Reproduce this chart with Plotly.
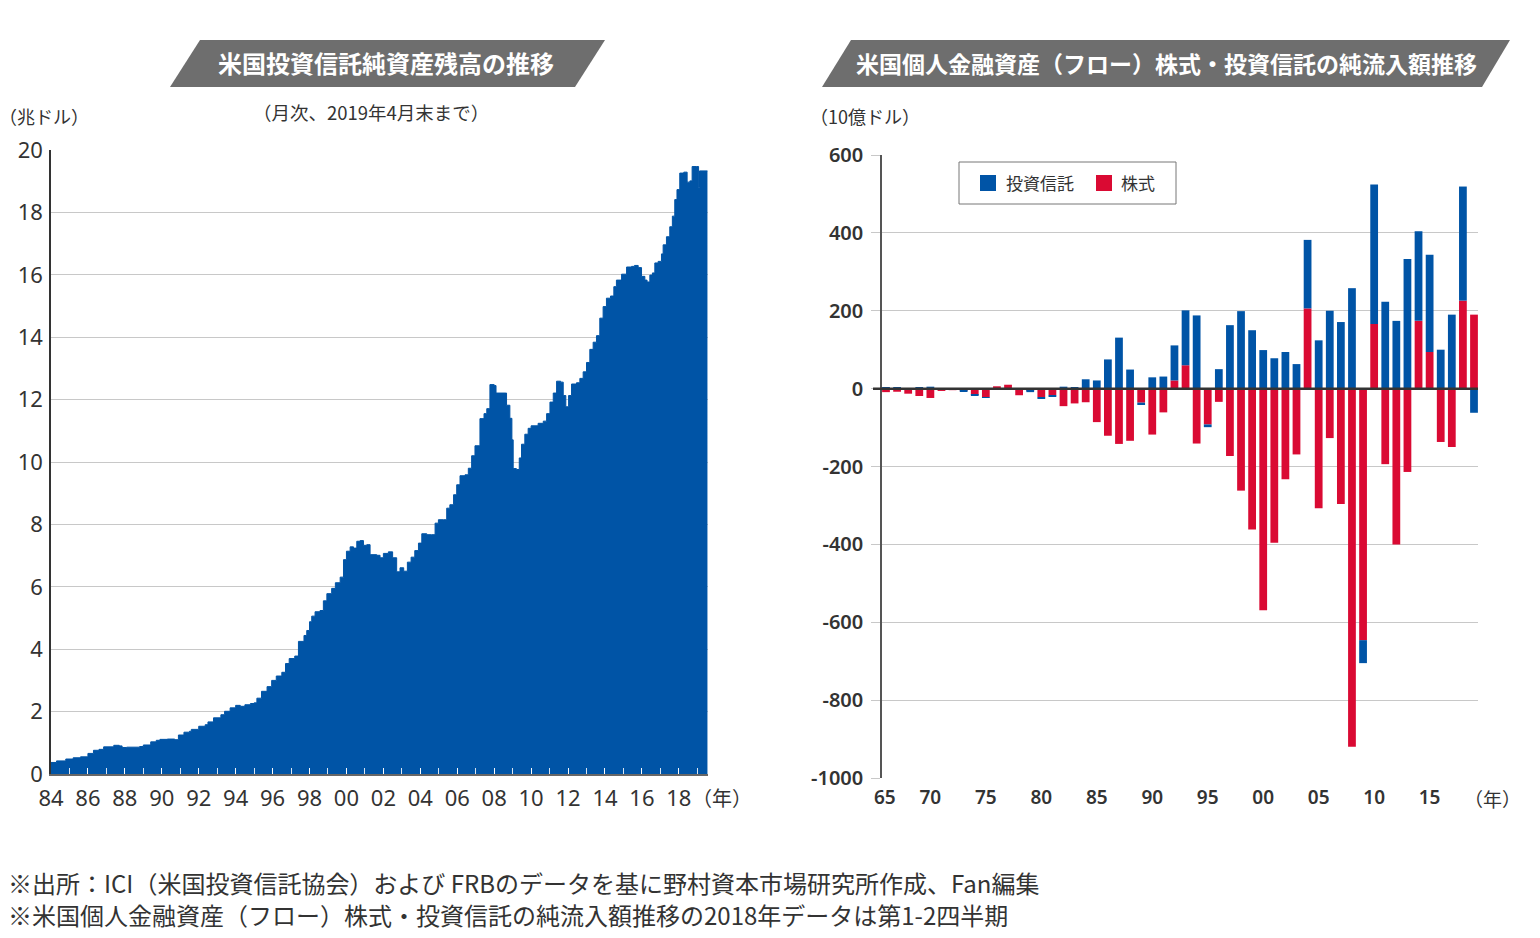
import plotly.graph_objects as go

W, H = 1540, 938
BLUE = "#0054a6"
RED = "#da0a33"
TXT = "#333333"
GRID = "#c8c8c8"
JP = "Noto Sans CJK JP"
NUM = "Noto Sans, sans-serif"

# ---- Left chart: US mutual fund net assets (trillion USD) ----
aum_year = [1984.0, 1984.3, 1984.8, 1985.2, 1985.6, 1986.0, 1986.3, 1986.6, 1986.85, 1987.4,
            1987.7, 1987.85, 1988.1, 1988.8, 1989.0, 1989.4, 1989.7, 1989.9, 1990.3, 1990.7,
            1990.9, 1991.2, 1991.5, 1991.6, 1992.0, 1992.35, 1992.5, 1992.8, 1993.2, 1993.4,
            1993.7, 1994.0, 1994.25, 1994.5, 1994.8, 1995.0, 1995.15, 1995.4, 1995.7, 1995.95,
            1996.2, 1996.5, 1996.7, 1996.9, 1997.2, 1997.4, 1997.7, 1997.85, 1998.0, 1998.12,
            1998.3, 1998.57, 1998.75, 1998.94, 1999.2, 1999.4, 1999.66, 1999.84, 2000.0, 2000.2,
            2000.38, 2000.56, 2000.74, 2000.92, 2001.1, 2001.28, 2001.64, 2001.82, 2002.0, 2002.27,
            2002.5, 2002.72, 2002.9, 2003.1, 2003.3, 2003.5, 2003.7, 2003.9, 2004.08, 2004.35,
            2004.6, 2004.8, 2004.98, 2005.25, 2005.43, 2005.6, 2005.8, 2005.97, 2006.15, 2006.42,
            2006.6, 2006.78, 2006.96, 2007.23, 2007.45, 2007.6, 2007.77, 2008.0, 2008.1, 2008.6,
            2008.67, 2008.85, 2008.96, 2009.03, 2009.2, 2009.36, 2009.48, 2009.66, 2009.84, 2010.0,
            2010.38, 2010.66, 2010.84, 2011.02, 2011.2, 2011.38, 2011.6, 2011.74, 2011.88, 2012.03,
            2012.19, 2012.46, 2012.64, 2012.82, 2013.0, 2013.18, 2013.36, 2013.54, 2013.72, 2013.9,
            2014.08, 2014.3, 2014.48, 2014.62, 2014.9, 2015.17, 2015.44, 2015.6, 2015.8, 2015.98,
            2016.16, 2016.28, 2016.43, 2016.57, 2016.7, 2016.88, 2017.06, 2017.15, 2017.33, 2017.51,
            2017.65, 2017.78, 2017.9, 2018.05, 2018.27, 2018.45, 2018.6, 2018.72, 2018.95, 2019.07,
            2019.12, 2019.55]
aum_value = [0.37, 0.42, 0.48, 0.52, 0.55, 0.66, 0.76, 0.79, 0.87, 0.92,
             0.90, 0.85, 0.86, 0.88, 0.93, 1.03, 1.08, 1.11, 1.12, 1.10,
             1.25, 1.34, 1.37, 1.43, 1.53, 1.58, 1.67, 1.80, 1.90, 2.01,
             2.12, 2.20, 2.17, 2.22, 2.26, 2.28, 2.43, 2.65, 2.80, 3.00,
             3.14, 3.26, 3.54, 3.70, 3.78, 4.25, 4.44, 4.60, 4.88, 5.06,
             5.20, 5.24, 5.55, 5.78, 5.95, 6.13, 6.31, 6.87, 7.14, 7.28,
             7.24, 7.46, 7.48, 7.33, 7.35, 7.03, 7.01, 6.93, 7.07, 7.12,
             6.93, 6.48, 6.61, 6.50, 6.79, 6.95, 7.16, 7.40, 7.70, 7.67,
             7.67, 8.04, 8.15, 8.15, 8.52, 8.63, 8.95, 9.27, 9.56, 9.59,
             9.80, 10.20, 10.52, 11.39, 11.55, 11.71, 12.48, 12.45, 12.21, 12.21,
             11.82, 11.40, 10.71, 9.79, 9.76, 10.13, 10.57, 10.89, 11.08, 11.16,
             11.24, 11.31, 11.55, 11.92, 12.21, 12.59, 12.56, 12.13, 11.77, 12.13,
             12.50, 12.54, 12.68, 12.89, 13.19, 13.61, 13.84, 14.05, 14.61, 14.98,
             15.25, 15.32, 15.62, 15.83, 16.02, 16.25, 16.27, 16.30, 16.23, 15.95,
             15.83, 15.77, 15.99, 16.06, 16.38, 16.43, 16.67, 16.96, 17.22, 17.54,
             17.88, 18.41, 18.73, 19.26, 19.29, 18.97, 19.01, 19.47, 19.47, 18.80,
             19.33, 19.33]
left_tickvals = list(range(1984, 2019, 2))
left_ticktext = ["84", "86", "88", "90", "92", "94", "96", "98", "00", "02",
                 "04", "06", "08", "10", "12", "14", "16", "18"]

# ---- Right chart: US household net flows (10億ドル) ----
flow_years = list(range(1966, 2020))
fund_flow = [3, 3, 0, 3, 5, 0, 0, -2, -3, -1,
             0, 0, 0, -3, -3, -2, 5, 4, 24, 21,
             75, 131, 49, -6, 29, 31, 90, 141, 188, -7,
             50, 163, 199, 150, 99, 78, 94, 63, 176, 124,
             200, 171, 258, -59, 358, 223, 174, 333, 230, 250,
             100, 190, 293, -62]
stock_flow = [-9, -8, -13, -19, -24, -6, -4, -6, -16, -22,
              6, 10, -17, -6, -22, -17, -45, -38, -35, -86,
              -121, -142, -134, -36, -118, -61, 21, 60, -141, -92,
              -34, -173, -262, -362, -569, -396, -233, -169, 206, -307,
              -127, -296, -920, -646, 166, -194, -400, -214, 174, 94,
              -137, -150, 226, 190]
right_tickvals = [1965.9, 1970, 1975, 1980, 1985, 1990, 1995, 2000, 2005, 2010, 2015]
right_ticktext = ["65", "70", "75", "80", "85", "90", "95", "00", "05", "10", "15"]
right_yvals = [600, 400, 200, 0, -200, -400, -600, -800, -1000]
right_ytext = ["600", "400", "200", "0", "-200", "-400", "-600", "-800", "-1000"]


def px(x):
    return x / W


def py(y):
    return 1 - y / H


fig = go.Figure()
fig.add_trace(go.Scatter(
    x=aum_year, y=aum_value, xaxis="x", yaxis="y", mode="lines",
    line=dict(color=BLUE, width=1, shape="hv"), fill="tozeroy", fillcolor=BLUE,
    showlegend=False, hoverinfo="skip"))
fig.add_trace(go.Bar(
    x=flow_years, y=stock_flow, name="株式", marker=dict(color=RED, line=dict(width=0)),
    width=0.7, xaxis="x2", yaxis="y2", showlegend=False))
fig.add_trace(go.Bar(
    x=flow_years, y=fund_flow, name="投資信託", marker=dict(color=BLUE, line=dict(width=0)),
    width=0.7, xaxis="x2", yaxis="y2", showlegend=False))

shapes = []


def banner(x0b, x0t, x1t, x1b, yt, yb):
    return dict(type="path", xref="paper", yref="paper",
                path=f"M {px(x0b)},{py(yb)} L {px(x0t)},{py(yt)} L {px(x1t)},{py(yt)} L {px(x1b)},{py(yb)} Z",
                fillcolor="#6e6e6e", line=dict(width=0), layer="below")


shapes.append(banner(170, 200, 605, 575, 40, 87))
shapes.append(banner(822, 851, 1510, 1482, 40, 87))
shapes.append(dict(type="line", xref="paper", yref="y2", x0=px(873), x1=px(1478), y0=0, y1=0,
                   line=dict(color="#333333", width=2.5), layer="above"))
shapes.append(dict(type="rect", xref="paper", yref="paper", x0=px(959), x1=px(1176),
                   y0=py(204), y1=py(162), line=dict(color="#777777", width=1), fillcolor="white"))
shapes.append(dict(type="rect", xref="paper", yref="paper", x0=px(980), x1=px(996),
                   y0=py(191), y1=py(175), line=dict(width=0), fillcolor=BLUE))
shapes.append(dict(type="rect", xref="paper", yref="paper", x0=px(1096), x1=px(1112),
                   y0=py(191), y1=py(175), line=dict(width=0), fillcolor=RED))

ann = []


def text(x, y, s, size, color=TXT, xanchor="center", weight=None, family=JP):
    f = dict(family=family, size=size, color=color)
    if weight:
        f["weight"] = weight
    ann.append(dict(x=px(x), y=py(y), xref="paper", yref="paper", text=s, showarrow=False,
                    xanchor=xanchor, yanchor="middle", font=f))


text(386, 63, "米国投資信託純資産残高の推移", 24, "white", weight="bold")
text(1166, 63, "米国個人金融資産（フロー）株式・投資信託の純流入額推移", 23, "white", weight="bold")
text(371, 112, "（月次、2019年4月末まで）", 18.5)
text(-3, 116, "（兆ドル）", 18, xanchor="left")
text(808, 116, "（10億ドル）", 18, xanchor="left")
text(690, 797, "（年）", 20, xanchor="left")
text(1462, 798, "（年）", 19, xanchor="left")
text(1004, 183, "投資信託", 17, xanchor="left")
text(1119, 183, "株式", 17, xanchor="left")
text(6, 882, "※出所：ICI（米国投資信託協会）および FRBのデータを基に野村資本市場研究所作成、Fan編集", 24, xanchor="left")
text(6, 914, "※米国個人金融資産（フロー）株式・投資信託の純流入額推移の2018年データは第1-2四半期", 24, xanchor="left")

fig.update_layout(
    width=W, height=H, margin=dict(l=0, r=0, t=0, b=0, pad=0), autosize=False,
    paper_bgcolor="white", plot_bgcolor="white",
    barmode="relative", showlegend=False,
    shapes=shapes, annotations=ann,
    xaxis=dict(domain=[px(51), px(708)], range=[1984, 2019.58], anchor="y", automargin=False,
               tickmode="array", tickvals=left_tickvals, ticktext=left_ticktext,
               ticks="inside", ticklen=6, tickcolor="rgba(255,255,255,0.85)", tickwidth=1,
               minor=dict(ticks="inside", dtick=1, tick0=1984, ticklen=6,
                          tickcolor="rgba(255,255,255,0.85)", tickwidth=1),
               showgrid=False, zeroline=False, showline=True, linecolor="#666666", linewidth=2,
               tickfont=dict(family=NUM, size=22, color=TXT), ticklabelstandoff=4),
    yaxis=dict(domain=[py(774), py(150)], range=[0, 20], anchor="x", dtick=2, automargin=False,
               showgrid=True, gridcolor=GRID, gridwidth=1, zeroline=False,
               showline=True, linecolor="#333333", linewidth=1.5, ticks="",
               tickfont=dict(family=NUM, size=22, color=TXT), ticklabelstandoff=2),
    xaxis2=dict(domain=[px(882), px(1478)], range=[1965.64, 2019.36], anchor="y2", automargin=False,
                tickmode="array", tickvals=right_tickvals, ticktext=right_ticktext,
                ticks="", showgrid=False, zeroline=False, showline=False,
                tickfont=dict(family="Noto Sans, sans-serif", size=19, color=TXT, weight=600),
                ticklabelstandoff=6),
    yaxis2=dict(domain=[py(778), py(155)], range=[-1000, 600], anchor="x2", automargin=False,
                tickmode="array", tickvals=right_yvals, ticktext=right_ytext,
                showgrid=True, gridcolor=GRID, gridwidth=1, zeroline=False,
                showline=True, linecolor="#555555", linewidth=1.5,
                ticks="outside", ticklen=9, tickcolor=GRID,
                tickfont=dict(family="Noto Sans, sans-serif", size=20, color=TXT, weight=600),
                ticklabelstandoff=4),
)

fig.write_html("out.html", config={"responsive": False, "displayModeBar": False},
               post_script="document.body.style.margin='0';document.body.style.overflow='hidden';")
